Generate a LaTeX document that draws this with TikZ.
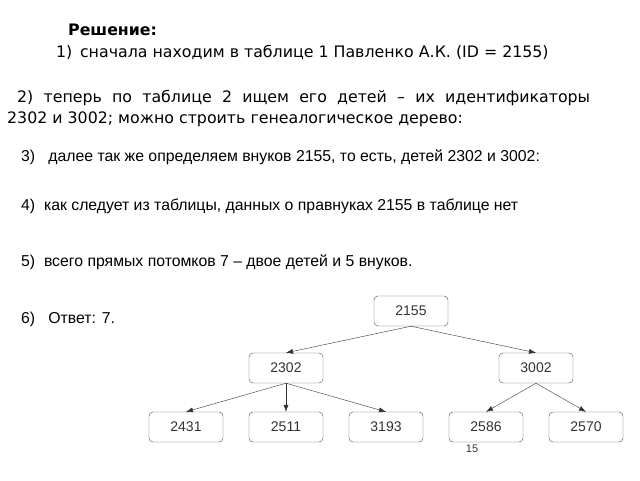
\documentclass[tikz,border=0pt]{standalone}
\usepackage{fontspec}
\setmainfont{DejaVu Sans}
\newfontfamily\arialf{Liberation Sans}
\usetikzlibrary{arrows.meta}
\begin{document}
\begin{tikzpicture}[x=1pt,y=-1pt,
  box/.style={draw=black!70,rounded corners=4pt,minimum width=74pt,minimum height=30pt,font=\arialf\fontsize{14}{15}\selectfont,text=black!80},
  arr/.style={-{Latex[length=7pt,width=5pt]},black!80},
  tx/.style={anchor=west,inner sep=0pt,font=\fontsize{15.8}{18}\selectfont},
  ta/.style={anchor=west,inner sep=0pt,font=\arialf\fontsize{15.8}{18}\selectfont}]
\useasboundingbox (0,0) rectangle (640,480);
\node[tx,font=\bfseries\fontsize{15.8}{18}\selectfont] (t0) at (68,30) {Решение:};
\node[tx] (t1) at (56,52) {1)\, сначала находим в таблице 1 Павленко А.К. (ID = 2155)};
\node[tx] (t2a) at (17,98) {\makebox[573pt][s]{2) теперь по таблице 2 ищем его детей – их идентификаторы}};
\node[tx] (t2b) at (7,119) {2302 и 3002; можно строить генеалогическое дерево:};
\node[ta] (t3) at (21,157) {3) \ \ далее так же определяем внуков 2155, то есть, детей 2302 и 3002:};
\node[ta] (t4) at (21,206) {4) \ как следует из таблицы, данных о правнуках 2155 в таблице нет};
\node[ta] (t5) at (21,262) {5) \ всего прямых потомков 7 – двое детей и 5 внуков.};
\node[ta] (t6) at (21,319) {6) \ \ Ответ: 7.};
\node[box] (a) at (411,311) {2155};
\node[box] (b) at (286,368) {2302};
\node[box] (c) at (536,368) {3002};
\node[box] (d) at (186,427) {2431};
\node[box] (e) at (286,427) {2511};
\node[box] (f) at (386,427) {3193};
\node[box] (g) at (486,427) {2586};
\node[box] (h) at (586,427) {2570};
\node[font=\arialf\fontsize{11}{12}\selectfont,text=black!80] (p) at (472,449) {15};
\draw[arr] (a.south) -- (b.north);
\draw[arr] (a.south) -- (c.north);
\draw[arr] (b.south) -- (d.north);
\draw[arr] (b.south) -- (e.north);
\draw[arr] (b.south) -- (f.north);
\draw[arr] (c.south) -- (g.north);
\draw[arr] (c.south) -- (h.north);
\end{tikzpicture}
\end{document}
